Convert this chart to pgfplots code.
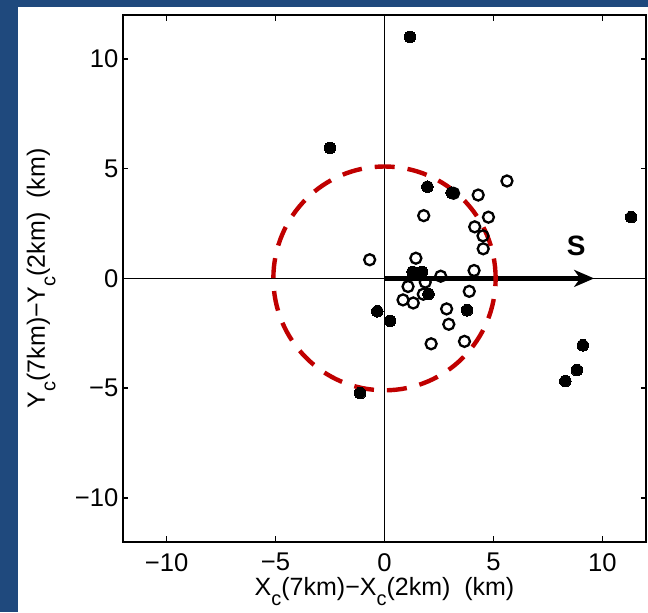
\documentclass[border=0pt]{standalone}
\usepackage{fontspec}
\setmainfont{Liberation Sans}
\usepackage{pgfplots}
\pgfplotsset{compat=1.18}
\usetikzlibrary{arrows.meta}
\definecolor{slideblue}{RGB}{31,73,125}
\definecolor{ringred}{RGB}{192,0,0}
% low, small subscript as in the axis labels
\newcommand{\sub}[1]{\raisebox{-0.42em}{\fontsize{10}{10}\selectfont #1}}

\begin{document}
\begin{tikzpicture}
\useasboundingbox (-61.5pt,-35.15pt) rectangle (262.5pt,270.85pt);
\fill[slideblue] (-61.5pt,-35.15pt) rectangle (262.5pt,270.85pt);
\fill[white] (-52.5pt,-35.15pt) rectangle (262.5pt,267.35pt);
\begin{axis}[
  scale only axis, width=261.5pt, height=263.3pt,
  xmin=-12, xmax=12, ymin=-12, ymax=12,
  axis line style={line width=0.9pt},
  tick align=inside, major tick length=2.7pt,
  tick style={line width=0.8pt, black},
  xtick={-10,-5,0,5,10}, ytick={-10,-5,0,5,10},
  xticklabels={−10,−5,0,5,10}, yticklabels={−10,−5,0,5,10},
  tick label style={font=\fontsize{12.8}{15}\selectfont},
  label style={font=\fontsize{12.5}{15}\selectfont},
  xticklabel style={yshift=-2.3pt},
  yticklabel style={xshift=1.2pt},
  xlabel={X\sub{c}(7km)−X\sub{c}(2km)\ \ (km)},
  ylabel={Y\sub{c}(7km)−Y\sub{c}(2km)\ \ (km)},
  xlabel style={at={(axis description cs:0.5,-0.1013)}, anchor=base},
  ylabel style={at={(axis description cs:-0.1492,0.5)}, anchor=base},
]
% coordinate axes through the origin
\addplot[black, line width=0.5pt] coordinates {(-12,0) (12,0)};
\addplot[black, line width=0.5pt] coordinates {(0,-12) (0,12)};

% filled markers
\addplot[only marks, mark=*, mark size=2.9pt, mark options={fill=black, draw=black, line width=0pt}] coordinates {
  (1.17,11.00) (-2.50,5.94) (1.97,4.18) (3.08,3.91) (11.32,2.79)
  (1.29,0.30) (1.72,0.29) (2.02,-0.71) (-0.33,-1.50) (0.26,-1.94)
  (3.79,-1.45) (-1.12,-5.23) (9.10,-3.05) (8.83,-4.18) (8.30,-4.68)
};

% open markers
\addplot[only marks, mark=o, mark size=2.75pt, mark options={draw=black, line width=1.15pt}] coordinates {
  (5.62,4.44) (4.30,3.80) (4.77,2.79) (1.80,2.86) (4.14,2.35)
  (4.52,1.94) (4.53,1.35) (3.17,3.88) (-0.68,0.85) (1.44,0.92)
  (4.11,0.36) (2.58,0.10) (1.87,-0.17) (1.08,-0.37) (1.78,-0.72)
  (3.89,-0.59) (0.85,-0.98) (1.32,-1.12) (2.85,-1.39) (2.95,-2.09)
  (2.14,-2.98) (3.67,-2.87)
};

% shear vector
\addplot[black, line width=2.15pt, -{Stealth[length=10pt, width=8.5pt, inset=3pt]}] coordinates {(0,0) (9.62,0)};
\node[font=\bfseries\fontsize{14}{14}\selectfont] at (axis cs:8.8,1.5) {S};

% 5.1 km ring
\draw[ringred, line width=2.2pt, dash pattern=on 10pt off 6.5pt] (axis cs:0,0) ellipse [x radius=5.1, y radius=5.1];
\end{axis}
\end{tikzpicture}
\end{document}
